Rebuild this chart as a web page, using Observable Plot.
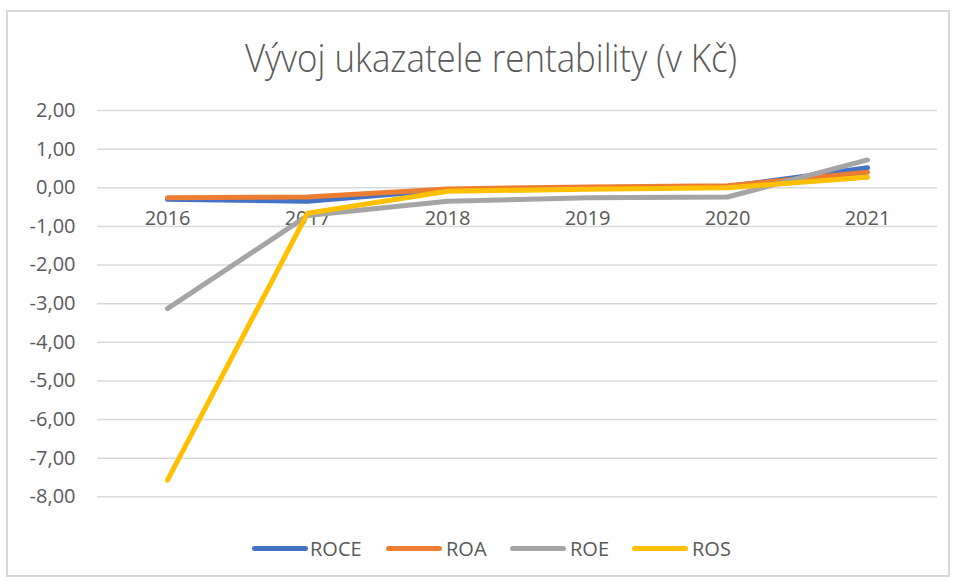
<!DOCTYPE html>
<html>
<head>
<meta charset="utf-8">
<script src="https://cdn.jsdelivr.net/npm/d3@7"></script>
<script src="https://cdn.jsdelivr.net/npm/@observablehq/plot@0.6"></script>
<style>
  html, body { margin: 0; padding: 0; background: #fff; }
  body { width: 955px; height: 581px; position: relative; overflow: hidden; font-family: "Open Sans", sans-serif; color: #595959; }
  #frame { position: absolute; left: 6px; top: 10px; width: 944px; height: 567px; border: 2px solid #d9d9d9; box-sizing: border-box; }
  #chart { position: absolute; left: 0; top: 0; }
  #title { position: absolute; left: 0; top: 0; }
  .leg { position: absolute; top: 537px; height: 24px; font-size: 20px; line-height: 24px; color: #595959; }
  .sw { position: absolute; top: 546px; height: 5px; border-radius: 3px; }
</style>
</head>
<body>
<div id="frame"></div>
<div id="chart"></div>
<svg id="title" width="955" height="100">
  <text x="491" y="72" text-anchor="middle" font-family="Open Sans, sans-serif" font-weight="300" font-size="39" fill="#595959" textLength="492" lengthAdjust="spacingAndGlyphs">Vývoj ukazatele rentability (v Kč)</text>
</svg>
<div id="legend"></div>
<script>
const years = ["2016", "2017", "2018", "2019", "2020", "2021"];
const seriesNames = ["ROCE", "ROA", "ROE", "ROS"];
const seriesColors = ["#4472C4", "#ED7D31", "#A5A5A5", "#FFC000"];
const roce = [-0.30, -0.35, -0.05, -0.02, 0.03, 0.52];
const roa  = [-0.26, -0.24, -0.03, 0.02, 0.05, 0.40];
const roe  = [-3.13, -0.72, -0.35, -0.26, -0.24, 0.72];
const ros  = [-7.57, -0.66, -0.09, -0.04, 0.00, 0.27];
const yTicks = [2, 1, 0, -1, -2, -3, -4, -5, -6, -7, -8];

const seriesValues = [roce, roa, roe, ros];
const data = [];
seriesNames.forEach((s, i) => {
  years.forEach((y, j) => data.push({series: s, year: y, value: seriesValues[i][j]}));
});

const fmt = d => d.toFixed(2).replace(".", ",");

const plot = Plot.plot({
  width: 955,
  height: 581,
  marginLeft: 97,
  marginRight: 18,
  marginTop: 110,
  marginBottom: 84.7,
  style: {fontFamily: "Open Sans, sans-serif", fontSize: "20px", color: "#595959", background: "transparent"},
  x: {type: "point", domain: years, padding: 0.5, axis: null},
  y: {domain: [-8, 2], axis: null},
  color: {domain: seriesNames, range: seriesColors},
  marks: [
    Plot.ruleY(yTicks, {stroke: "#d9d9d9", strokeWidth: 1.5}),
    Plot.axisY({ticks: yTicks, tickSize: 0, tickPadding: 22, tickFormat: fmt, fontSize: 20, fill: "#595959", label: null}),
    Plot.text(years, {x: d => d, y: 0, dy: 31, text: d => d, fontSize: 20, fill: "#595959"}),
    Plot.line(data, {x: "year", y: "value", z: "series", stroke: "series", strokeWidth: 5, strokeLinecap: "round", strokeLinejoin: "round"})
  ]
});
document.getElementById("chart").appendChild(plot);

const legend = document.getElementById("legend");
const swLeft = [252, 386, 510, 632];
const txLeft = [310, 446, 570, 692];
seriesNames.forEach((s, i) => {
  const sw = document.createElement("div");
  sw.className = "sw";
  sw.style.left = swLeft[i] + "px";
  sw.style.width = "56px";
  sw.style.background = seriesColors[i];
  legend.appendChild(sw);
  const tx = document.createElement("div");
  tx.className = "leg";
  tx.style.left = txLeft[i] + "px";
  tx.textContent = s;
  legend.appendChild(tx);
});
</script>
</body>
</html>
